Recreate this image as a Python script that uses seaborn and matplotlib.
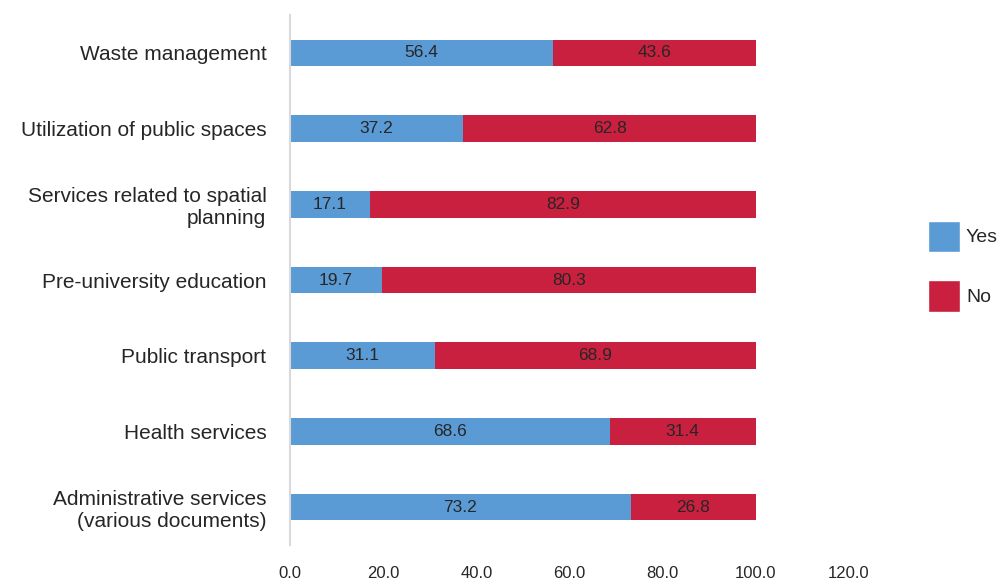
import matplotlib
matplotlib.use("Agg")
import matplotlib.pyplot as plt
from matplotlib.patches import Patch
import seaborn as sns
import pandas as pd

categories = [
    "Waste management",
    "Utilization of public spaces",
    "Services related to spatial\nplanning",
    "Pre-university education",
    "Public transport",
    "Health services",
    "Administrative services\n(various documents)",
]
yes_values = [56.4, 37.2, 17.1, 19.7, 31.1, 68.6, 73.2]
no_values = [43.6, 62.8, 82.9, 80.3, 68.9, 31.4, 26.8]
x_ticks = [0, 20, 40, 60, 80, 100, 120]

YES_COLOR = "#5B9BD5"
NO_COLOR = "#C8203E"
TEXT_COLOR = "#262626"

sns.set_style("white")
fonts = ["Liberation Sans Narrow", "Liberation Sans", "DejaVu Sans"]
plt.rcParams["font.family"] = fonts

df = pd.DataFrame({
    "category": categories,
    "yes": yes_values,
    "no": no_values,
})
df["total"] = df["yes"] + df["no"]

fig = plt.figure(figsize=(10, 5.81), dpi=100)
ax = fig.add_axes([0.29, 0.062, 0.559, 0.912])

# Stacked bars: full-length "No" bar underneath, "Yes" segment drawn over it
sns.barplot(data=df, y="category", x="total", color=NO_COLOR, orient="h",
            width=0.35, saturation=1, ax=ax, linewidth=0)
sns.barplot(data=df, y="category", x="yes", color=YES_COLOR, orient="h",
            width=0.35, saturation=1, ax=ax, linewidth=0)

for i, (y, n) in enumerate(zip(df["yes"], df["no"])):
    ax.text(y / 2, i, f"{y:.1f}", ha="center", va="center",
            fontsize=12.5, color=TEXT_COLOR)
    ax.text(y + n / 2, i, f"{n:.1f}", ha="center", va="center",
            fontsize=12.5, color=TEXT_COLOR)

ax.set_xlim(0, 120)
ax.set_ylim(6.5, -0.5)
ax.set_xticks(x_ticks)
ax.set_xticklabels([f"{t:.1f}" for t in x_ticks], fontsize=12, color=TEXT_COLOR)
ax.tick_params(axis="x", length=0, pad=15)
ax.tick_params(axis="y", length=0, pad=17)
for lbl in ax.get_yticklabels():
    lbl.set_fontsize(15)
    lbl.set_color(TEXT_COLOR)
    lbl.set_multialignment("right")
ax.set_xlabel("")
ax.set_ylabel("")

for side in ["top", "right", "bottom"]:
    ax.spines[side].set_visible(False)
ax.spines["left"].set_color("#D9D9D9")
ax.spines["left"].set_linewidth(1.5)

handles = [Patch(facecolor=YES_COLOR, label="Yes"),
           Patch(facecolor=NO_COLOR, label="No")]
fig.legend(handles=handles, loc="center left", bbox_to_anchor=(0.928, 0.542),
           frameon=False, fontsize=14, handlelength=1.65, handleheight=2.1,
           labelspacing=1.45, handletextpad=0.3, borderpad=0, borderaxespad=0,
           labelcolor=TEXT_COLOR)

fig.savefig("out.png", dpi=100)
